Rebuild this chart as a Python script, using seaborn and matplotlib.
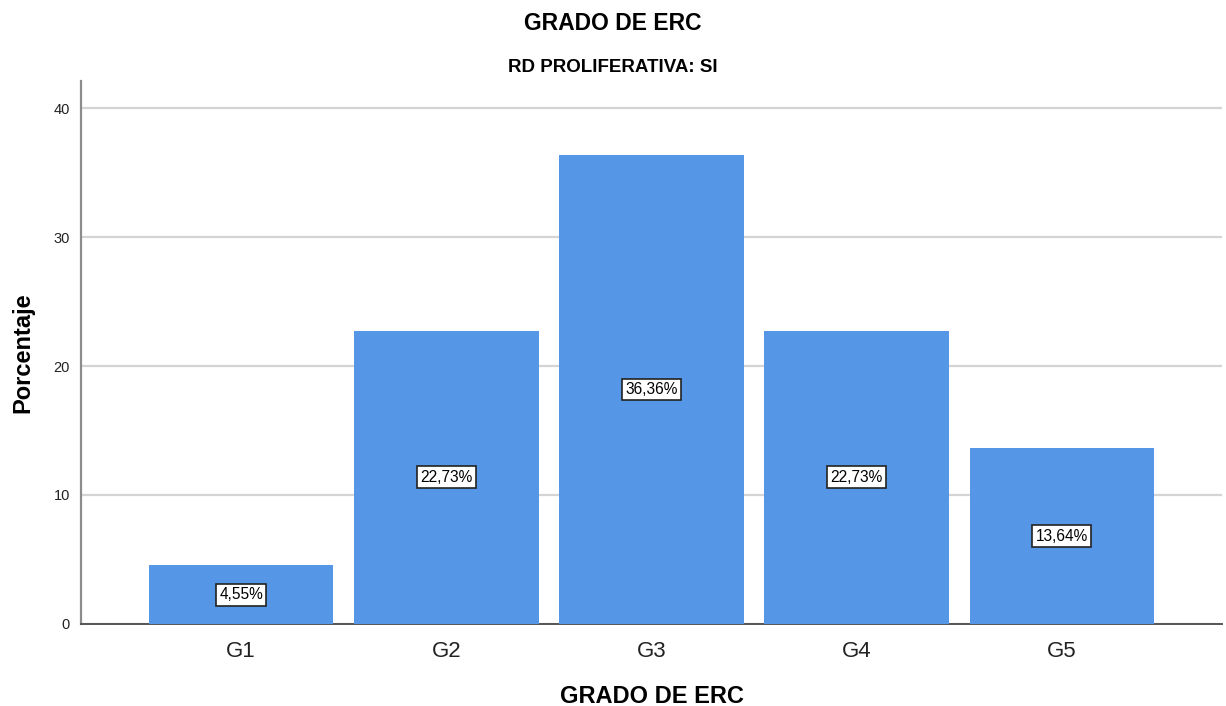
import matplotlib
matplotlib.use("Agg")
import matplotlib.pyplot as plt
import seaborn as sns
import pandas as pd

categories = ["G1", "G2", "G3", "G4", "G5"]
percentages = [4.55, 22.73, 36.36, 22.73, 13.64]
y_ticks = [0, 10, 20, 30, 40]

title = "GRADO DE ERC"
subtitle = "RD PROLIFERATIVA: SI"
x_label = "GRADO DE ERC"
y_label = "Porcentaje"

sns.set_theme(style="white")
plt.rcParams["font.family"] = ["Liberation Sans", "DejaVu Sans"]
plt.rcParams["text.color"] = "black"
plt.rcParams["axes.labelcolor"] = "black"

df = pd.DataFrame({"grado": categories, "pct": percentages})

fig = plt.figure(figsize=(12.26, 7.06), dpi=100)
ax = fig.add_axes([0.0661, 0.1162, 0.9306, 0.7691])

sns.barplot(data=df, x="grado", y="pct", color="#5596E6", saturation=1,
            width=0.9, ax=ax, zorder=3, edgecolor="#5596E6", linewidth=0)

ax.set_xlim(-0.78, 4.78)
ax.set_ylim(0, 42.1)
ax.set_yticks(y_ticks)
ax.set_yticklabels([str(t) for t in y_ticks], fontsize=10.5)
ax.tick_params(axis="x", labelsize=16, length=0, pad=12, colors="#222222")
ax.tick_params(axis="y", length=0, pad=8, colors="#222222")

ax.yaxis.grid(True, color="#d4d4d4", linewidth=1.6, zorder=0)
ax.xaxis.grid(False)
for side in ("top", "right"):
    ax.spines[side].set_visible(False)
ax.spines["left"].set_color("#8c8c8c")
ax.spines["left"].set_linewidth(1.6)
ax.spines["bottom"].set_color("#555555")
ax.spines["bottom"].set_linewidth(1.4)

for i, v in enumerate(percentages):
    ax.text(i, v / 2, f"{v:.2f}%".replace(".", ","), ha="center", va="center",
            fontsize=11.2, color="black", zorder=5,
            bbox=dict(boxstyle="square,pad=0.22", facecolor="white",
                      edgecolor="#222222", linewidth=1.2))

ax.set_xlabel(x_label, fontsize=17, fontweight="bold", labelpad=17)
ax.set_ylabel(y_label, fontsize=17, fontweight="bold", labelpad=14)

fig.text(0.5, 0.967, title, ha="center", va="center", fontsize=16.5,
         fontweight="bold")
fig.text(0.5, 0.905, subtitle, ha="center", va="center", fontsize=13.5,
         fontweight="bold")

fig.savefig("out.png", dpi=100, facecolor="white")
